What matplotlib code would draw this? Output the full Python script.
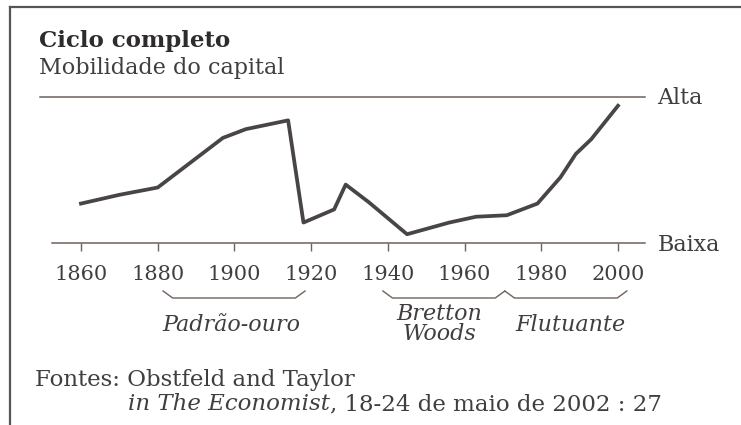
import matplotlib
matplotlib.use("Agg")
import matplotlib.pyplot as plt
from matplotlib.lines import Line2D

# ---- data ----
years = [1860, 1870, 1880, 1885, 1891, 1897, 1903, 1914, 1918, 1926, 1929, 1935, 1940,
         1945, 1956, 1963, 1971, 1979, 1985, 1989, 1993, 2000]
mobility = [0.27, 0.33, 0.38, 0.48, 0.60, 0.72, 0.78, 0.84, 0.14, 0.23, 0.40, 0.28,
            0.17, 0.06, 0.14, 0.18, 0.19, 0.27, 0.45, 0.61, 0.71, 0.94]
tick_years = [1860, 1880, 1900, 1920, 1940, 1960, 1980, 2000]
regimes = ["Padrão-ouro", "Bretton", "Woods", "Flutuante"]
regime_spans = [(1881.4, 1918.4), (1938.7, 1970.5), (1970.5, 2002.3)]

W, H = 741, 425
fig = plt.figure(figsize=(W / 100, H / 100), dpi=100)
fig.patch.set_facecolor("white")

def fx(px):
    return px / W

def fy(py):
    return 1 - py / H

serif = "DejaVu Serif"
txt_col = "#423e3e"
axis_col = "#6e625c"
line_col = "#4a4545"

# frame (left and top)
fig.add_artist(Line2D([fx(10), fx(10)], [fy(7), 0], color="#555555", lw=1.6))
fig.add_artist(Line2D([fx(10), 1], [fy(7), fy(7)], color="#555555", lw=1.6))

# data axes: 1860 -> x=81px, 2000 -> x=618px ; 0 -> y=243px, 1 -> y=97px
pxyr = (618 - 81) / 140.0
x_left, x_right = 52, 645
xlim = (1860 - (81 - x_left) / pxyr, 1860 + (x_right - 81) / pxyr)
ax = fig.add_axes([fx(x_left), fy(243), (x_right - x_left) / W, (243 - 97) / H])
ax.set_xlim(*xlim)
ax.set_ylim(0, 1)
ax.patch.set_alpha(0)
for s in ["top", "right", "left"]:
    ax.spines[s].set_visible(False)
ax.spines["bottom"].set_color(axis_col)
ax.spines["bottom"].set_linewidth(1.1)
ax.set_yticks([])
ax.set_xticks(tick_years)
ax.set_xticklabels([str(y) for y in tick_years], fontfamily=serif, fontsize=15,
                   color=txt_col)
ax.tick_params(axis="x", direction="out", length=6, width=1.0, color=axis_col, pad=10)

# Alta line
alta_x0 = 1860 - (81 - 40) / pxyr
ax.plot([alta_x0, xlim[1]], [1, 1], color=axis_col, lw=1.1, clip_on=False)

# main series
ax.plot(years, mobility, color=line_col, lw=2.7, solid_joinstyle="round",
        clip_on=False)

# right labels
fig.text(fx(657), fy(98), "Alta", fontfamily=serif, fontsize=16, color=txt_col,
         va="center", ha="left")
fig.text(fx(658), fy(245), "Baixa", fontfamily=serif, fontsize=16, color=txt_col,
         va="center", ha="left")

# brackets (in data x, y below the axis)
yb = (243 - 298) / 146.0
yt = (243 - 291) / 146.0
for (a, b) in regime_spans:
    ax.plot([a, a + 2.5, b - 2.5, b], [yt, yb, yb, yt], color=axis_col, lw=1.0,
            clip_on=False)

# regime labels
label_px = [(231, 325), (439, 314), (439, 334), (570, 325)]
for lab, (px, py) in zip(regimes, label_px):
    fig.text(fx(px), fy(py), lab, fontfamily=serif, fontstyle="italic",
             fontsize=16, color=txt_col, ha="center", va="center")

# titles
fig.text(fx(39), fy(47), "Ciclo completo", fontfamily=serif, fontweight="bold",
         fontsize=16.5, color="#2e2b2b", ha="left", va="baseline")
fig.text(fx(39), fy(74), "Mobilidade do capital", fontfamily=serif,
         fontsize=16, color=txt_col, ha="left", va="baseline")

# sources
fig.text(fx(35), fy(380), "Fontes: Obstfeld and Taylor", fontfamily=serif,
         fontsize=16.5, color=txt_col, ha="left", va="center")
t1 = fig.text(fx(128), fy(404), "in The Economist", fontfamily=serif,
              fontstyle="italic", fontsize=16.5, color=txt_col, ha="left",
              va="center")
fig.canvas.draw()
bb = t1.get_window_extent()
fig.text(bb.x1 / W, fy(404), ", 18-24 de maio de 2002 : 27", fontfamily=serif,
         fontsize=16.5, color=txt_col, ha="left", va="center")

fig.savefig("out.png", dpi=100, facecolor="white")
